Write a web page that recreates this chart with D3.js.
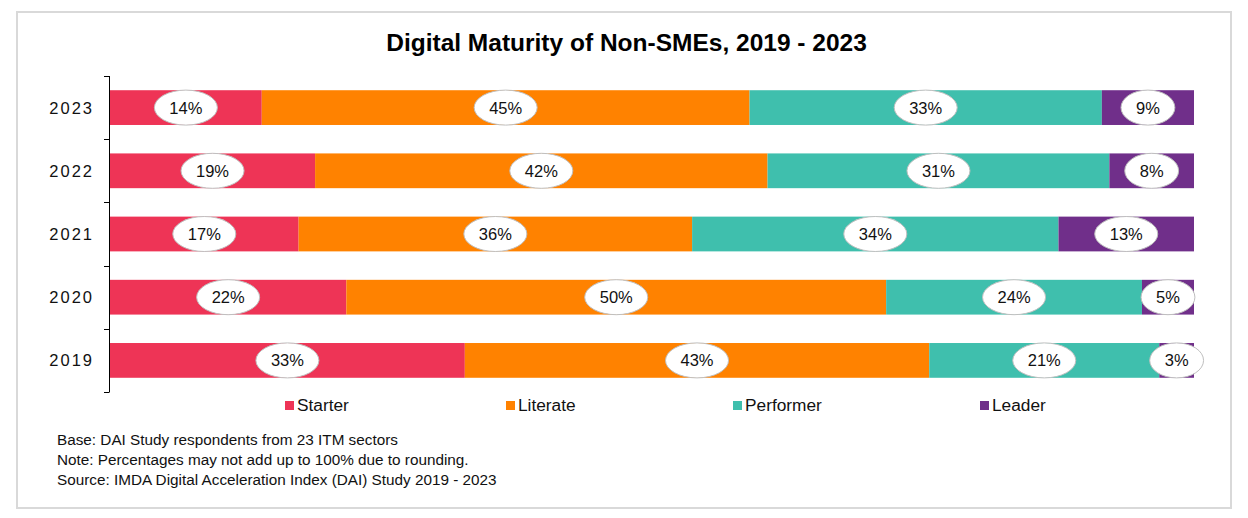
<!DOCTYPE html>
<html><head><meta charset="utf-8">
<script src="https://cdn.jsdelivr.net/npm/d3@7"></script>
<style>
body{margin:0;background:#fff;}
svg{display:block;font-family:Arial,"Liberation Sans",sans-serif;}
</style></head>
<body><svg id="c" width="1248" height="518"></svg>
<script>
const years = ["2023","2022","2021","2020","2019"];
const seriesNames = ["Starter","Literate","Performer","Leader"];
const starter   = [14.0, 18.9, 17.4, 21.8, 32.7];
const literate  = [45.0, 41.7, 36.3, 49.8, 42.8];
const performer = [32.5, 31.5, 33.8, 23.6, 21.2];
const leader    = [ 8.5,  7.8, 12.5,  4.8,  3.2];
const starterLabels   = ["14%","19%","17%","22%","33%"];
const literateLabels  = ["45%","42%","36%","50%","43%"];
const performerLabels = ["33%","31%","34%","24%","21%"];
const leaderLabels    = ["9%","8%","13%","5%","3%"];
const colors = ["#ee3456","#ff8200","#3fbfad","#702f8a"];
const title = "Digital Maturity of Non-SMEs, 2019 - 2023";
const notes = ["Base: DAI Study respondents from 23 ITM sectors",
  "Note: Percentages may not add up to 100% due to rounding.",
  "Source: IMDA Digital Acceleration Index (DAI) Study 2019 - 2023"];

const vals = [starter, literate, performer, leader];
const labs = [starterLabels, literateLabels, performerLabels, leaderLabels];
const rows = years.map((y,i)=>{const r={year:y}; seriesNames.forEach((s,j)=>{r[s]=vals[j][i]; r[s+"_l"]=labs[j][i];}); return r;});

const svg = d3.select("#c");
svg.append("rect").attr("x",17).attr("y",12).attr("width",1214).attr("height",496)
  .attr("fill","#fff").attr("stroke","#d9d9d9").attr("stroke-width",2);

svg.append("text").attr("x",626.5).attr("y",51).attr("text-anchor","middle")
  .attr("font-size",24.5).attr("font-weight","bold").attr("fill","#000").text(title);

const x = d3.scaleLinear().domain([0,1]).range([110,1194]);
const yOuter = d3.scaleBand().domain(years).range([76,392]).padding(0);
const y = d3.scaleBand().domain(years).range([76,392]).paddingInner(0.45).paddingOuter(0.225);

const stack = d3.stack().keys(seriesNames).offset(d3.stackOffsetExpand);
const layers = stack(rows);

const g = svg.append("g");
layers.forEach((layer,k)=>{
  g.selectAll(null).data(layer).enter().append("rect")
    .attr("x",d=>x(d[0])).attr("width",d=>x(d[1])-x(d[0]))
    .attr("y",d=>y(d.data.year)).attr("height",y.bandwidth())
    .attr("fill",colors[k]);
});

// labels
layers.forEach((layer,k)=>{
  layer.forEach(d=>{
    const cx = (x(d[0])+x(d[1]))/2;
    const cy = y(d.data.year)+y.bandwidth()/2;
    const txt = d.data[layer.key+"_l"];
    const gg = svg.append("g");
    const el = gg.append("ellipse").attr("cx",cx).attr("cy",cy).attr("ry",17.5)
      .attr("fill","#fff").attr("stroke","#bfbfbf").attr("stroke-width",1);
    const t = gg.append("text").attr("x",cx).attr("y",cy).attr("dy","0.36em")
      .attr("text-anchor","middle").attr("font-size",16.5).attr("fill","#111").text(txt);
    const w = t.node().getComputedTextLength();
    el.attr("rx", w/2+15);
  });
});

// axis
const ax = svg.append("g").attr("stroke","#000").attr("stroke-width",1);
ax.append("line").attr("x1",109.5).attr("x2",109.5).attr("y1",76).attr("y2",392);
const bounds = years.map(d=>yOuter(d)).concat([yOuter(years[years.length-1])+yOuter.bandwidth()]);
ax.selectAll(null).data(bounds).enter().append("line")
  .attr("x1",104).attr("x2",109.5).attr("y1",d=>Math.round(d)+0.5).attr("y2",d=>Math.round(d)+0.5);

svg.selectAll(null).data(years).enter().append("text")
  .attr("x",94).attr("y",d=>y(d)+y.bandwidth()/2).attr("dy","0.36em")
  .attr("text-anchor","end").attr("font-size",16.5).attr("letter-spacing","2px")
  .attr("fill","#111").text(d=>d);

// legend
const legX = [285,506,733,980];
seriesNames.forEach((s,k)=>{
  svg.append("rect").attr("x",legX[k]).attr("y",401).attr("width",9).attr("height",9).attr("fill",colors[k]);
  svg.append("text").attr("x",legX[k]+12).attr("y",411).attr("font-size",17.3).attr("fill","#111").text(s);
});

// notes
notes.forEach((n,i)=>{
  svg.append("text").attr("x",57).attr("y",445+i*20).attr("font-size",15.3).attr("fill","#111").text(n);
});
</script></body></html>
